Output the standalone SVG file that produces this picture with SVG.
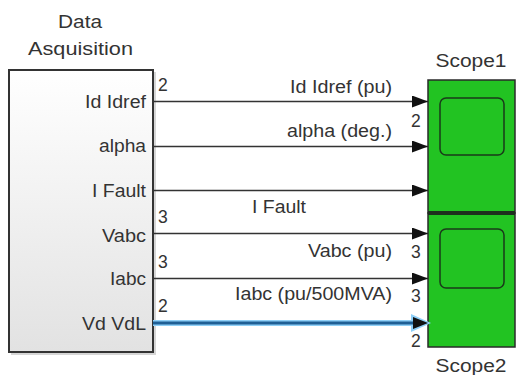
<svg xmlns="http://www.w3.org/2000/svg" width="517" height="375" viewBox="0 0 517 375">
<defs>
<linearGradient id="blk" x1="0" y1="0" x2="0" y2="1">
<stop offset="0" stop-color="#ffffff"/>
<stop offset="1" stop-color="#e2e2e2"/>
</linearGradient>
<marker id="arr" viewBox="0 0 16 12" refX="16" refY="6" markerWidth="16" markerHeight="12" markerUnits="userSpaceOnUse" orient="auto">
<path d="M0,0 L16,6 L0,12 z" fill="#111"/>
</marker>
</defs>
<style>
text{font-family:"Liberation Sans",Arial,sans-serif;font-size:17.5px;fill:#333}
.r{text-anchor:end}
.m{text-anchor:middle}
.w{stroke:#333;stroke-width:1.5;fill:none}
.sc{fill:#22c322;stroke:#2a2a2a;stroke-width:1.5}
.scr{fill:#22c322;stroke:#1a3a1a;stroke-width:1.5}
</style>
<rect width="517" height="375" fill="#ffffff"/>

<g id="data-asquisition">
<rect x="11" y="72" width="145" height="283" fill="#bbb" opacity="0.6"/>
<rect x="9" y="70" width="144" height="282" fill="url(#blk)" stroke="#333" stroke-width="2"/>
<text class="m" x="80" y="28" textLength="44" lengthAdjust="spacingAndGlyphs">Data</text>
<text class="m" x="80.5" y="55" textLength="105" lengthAdjust="spacingAndGlyphs">Asquisition</text>
<text class="r" x="146" y="108" textLength="61" lengthAdjust="spacingAndGlyphs">Id Idref</text>
<text class="r" x="146" y="152" textLength="47" lengthAdjust="spacingAndGlyphs">alpha</text>
<text class="r" x="146" y="197" textLength="54" lengthAdjust="spacingAndGlyphs">I Fault</text>
<text class="r" x="146" y="242" textLength="44" lengthAdjust="spacingAndGlyphs">Vabc</text>
<text class="r" x="146" y="285" textLength="36" lengthAdjust="spacingAndGlyphs">Iabc</text>
<text class="r" x="146" y="330" textLength="64" lengthAdjust="spacingAndGlyphs">Vd VdL</text>
</g>

<g id="scope1">
<rect x="428" y="80" width="87" height="133" class="sc"/>
<rect x="440" y="98" width="64" height="57" rx="6" class="scr"/>
<text class="m" x="471" y="67" textLength="71" lengthAdjust="spacingAndGlyphs">Scope1</text>
</g>

<g id="scope2">
<rect x="428" y="213" width="87" height="134" class="sc"/>
<line x1="428" y1="213" x2="515" y2="213" stroke="#1e2e1e" stroke-width="4"/>
<rect x="440" y="229" width="64" height="59" rx="6" class="scr"/>
<text class="m" x="471" y="372" textLength="71" lengthAdjust="spacingAndGlyphs">Scope2</text>
</g>

<g id="connectors">
<line x1="153" y1="101.5" x2="428" y2="101.5" class="w" marker-end="url(#arr)"/>
<line x1="153" y1="146.5" x2="428" y2="146.5" class="w" marker-end="url(#arr)"/>
<line x1="153" y1="190.5" x2="428" y2="190.5" class="w" marker-end="url(#arr)"/>
<line x1="153" y1="233.5" x2="428" y2="233.5" class="w" marker-end="url(#arr)"/>
<line x1="153" y1="278.5" x2="428" y2="278.5" class="w" marker-end="url(#arr)"/>
<line x1="153" y1="323" x2="420" y2="323" stroke="#8fd0f8" stroke-width="6"/>
<path d="M411,314 L431,323 L411,332 z" fill="#8fd0f8"/>
<line x1="153" y1="323" x2="414" y2="323" stroke="#1f5f95" stroke-width="3"/>
<path d="M413,317 L428,323 L413,329 z" fill="#111"/>

<text class="r" x="392" y="93" textLength="102" lengthAdjust="spacingAndGlyphs">Id Idref (pu)</text>
<text class="r" x="392" y="137" textLength="105" lengthAdjust="spacingAndGlyphs">alpha (deg.)</text>
<text class="m" x="279" y="213" textLength="54" lengthAdjust="spacingAndGlyphs">I Fault</text>
<text class="r" x="392" y="257" textLength="84" lengthAdjust="spacingAndGlyphs">Vabc (pu)</text>
<text class="r" x="392" y="300" textLength="157" lengthAdjust="spacingAndGlyphs">Iabc (pu/500MVA)</text>

<text x="158" y="91">2</text>
<text x="158" y="223">3</text>
<text x="158" y="268">3</text>
<text x="158" y="312">2</text>
<text x="411" y="127">2</text>
<text x="411" y="258">3</text>
<text x="411" y="302">3</text>
<text x="411" y="347">2</text>
</g>
</svg>
